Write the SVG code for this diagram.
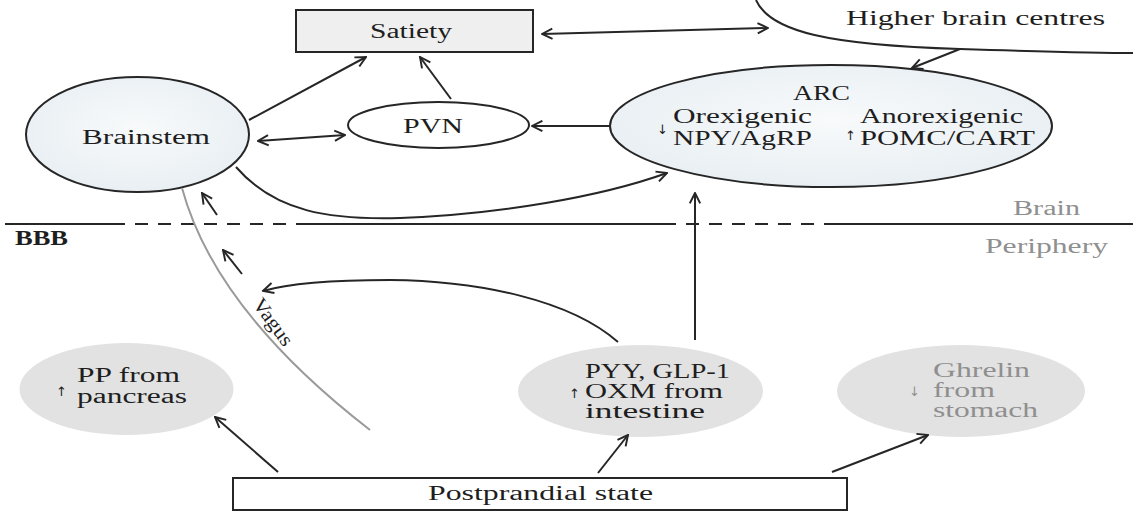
<svg xmlns="http://www.w3.org/2000/svg" width="1133" height="520" viewBox="0 0 1133 520">
<style>
  text { font-family: "Liberation Serif", "DejaVu Serif", serif; font-size: 20px; fill: #1e1e1e; }
  .gray { fill: #8f8f8f; }
  .ln { fill: none; stroke: #262626; stroke-width: 2; }
  .arr { fill: none; stroke: #262626; stroke-width: 2; marker-end: url(#ah); }
  .dbl { fill: none; stroke: #262626; stroke-width: 2; marker-end: url(#ah); marker-start: url(#ah); }
  .node { stroke: #262626; stroke-width: 2; }
  .pnode { fill: #e2e2e2; stroke: none; }
  .sm { font-family: "DejaVu Sans", sans-serif; font-size: 13px; }
</style>
<defs>
  <marker id="ah" viewBox="0 0 10 10" refX="9" refY="5" markerWidth="13" markerHeight="13" markerUnits="userSpaceOnUse" orient="auto-start-reverse">
    <path d="M1,1 L9,5 L1,9" fill="none" stroke="#262626" stroke-width="1.5"/>
  </marker>
  <radialGradient id="bg" cx="50%" cy="45%" r="60%">
    <stop offset="0" stop-color="#f8fafb"/>
    <stop offset="1" stop-color="#e7eef2"/>
  </radialGradient>
</defs>
<rect width="1133" height="520" fill="#ffffff"/>

<!-- BBB line -->
<g id="bbb">
  <path class="ln" d="M5,224 H125 M297,224 H663 M833,224 H1133"/>
  <path class="ln" d="M135,224 H297 M663,224 H833" stroke-dasharray="13,10"/>
  <text x="15" y="245" textLength="53" lengthAdjust="spacingAndGlyphs" font-weight="bold">BBB</text>
  <text class="gray" x="1013" y="215" textLength="67" lengthAdjust="spacingAndGlyphs">Brain</text>
  <text class="gray" x="985" y="253" textLength="123" lengthAdjust="spacingAndGlyphs">Periphery</text>
</g>

<g id="higher">
  <path class="ln" d="M756,0 C770,32 830,45 960,49 S1100,53 1133,53"/>
  <text x="846" y="25" textLength="259" lengthAdjust="spacingAndGlyphs">Higher brain centres</text>
</g>

<g id="satiety">
  <rect x="296" y="10" width="237" height="42" fill="#efefef" class="node"/>
  <text x="370" y="38" textLength="82" lengthAdjust="spacingAndGlyphs">Satiety</text>
</g>

<g id="brainstem">
  <ellipse cx="137.5" cy="134.5" rx="111.5" ry="57.5" fill="url(#bg)" class="node"/>
  <text x="82" y="144" textLength="128" lengthAdjust="spacingAndGlyphs">Brainstem</text>
</g>

<g id="pvn">
  <ellipse cx="438.5" cy="125" rx="90.5" ry="23" fill="#ffffff" class="node"/>
  <text x="403" y="133" textLength="60" lengthAdjust="spacingAndGlyphs">PVN</text>
</g>

<g id="arc">
  <ellipse cx="831" cy="126" rx="221" ry="61" fill="url(#bg)" class="node"/>
  <text x="793" y="100" textLength="57" lengthAdjust="spacingAndGlyphs">ARC</text>
  <text class="sm" x="657" y="134">↓</text>
  <text x="673" y="123" textLength="139" lengthAdjust="spacingAndGlyphs">Orexigenic</text>
  <text x="673" y="145" textLength="139" lengthAdjust="spacingAndGlyphs">NPY/AgRP</text>
  <text class="sm" x="845" y="140">↑</text>
  <text x="860" y="123" textLength="163" lengthAdjust="spacingAndGlyphs">Anorexigenic</text>
  <text x="860" y="145" textLength="175" lengthAdjust="spacingAndGlyphs">POMC/CART</text>
</g>

<g id="pp">
  <ellipse class="pnode" cx="126.5" cy="389" rx="107" ry="46"/>
  <text class="sm" x="56" y="396">↑</text>
  <text x="77" y="382" textLength="103" lengthAdjust="spacingAndGlyphs">PP from</text>
  <text x="77" y="403" textLength="110" lengthAdjust="spacingAndGlyphs">pancreas</text>
</g>

<g id="pyy">
  <ellipse class="pnode" cx="640.5" cy="391" rx="122.5" ry="46"/>
  <text x="585" y="378" textLength="145" lengthAdjust="spacingAndGlyphs">PYY, GLP-1</text>
  <text class="sm" x="569" y="398">↑</text>
  <text x="585" y="398" textLength="138" lengthAdjust="spacingAndGlyphs">OXM from</text>
  <text x="585" y="418" textLength="120" lengthAdjust="spacingAndGlyphs">intestine</text>
</g>

<g id="ghrelin">
  <ellipse class="pnode" cx="961" cy="391" rx="124" ry="46"/>
  <text class="gray" x="933" y="377" textLength="97" lengthAdjust="spacingAndGlyphs">Ghrelin</text>
  <text class="sm gray" x="909" y="396">↓</text>
  <text class="gray" x="933" y="397" textLength="62" lengthAdjust="spacingAndGlyphs">from</text>
  <text class="gray" x="933" y="417" textLength="105" lengthAdjust="spacingAndGlyphs">stomach</text>
</g>

<g id="postprandial">
  <rect x="233" y="478" width="614" height="32" fill="#ffffff" class="node"/>
  <text x="428" y="500" textLength="225" lengthAdjust="spacingAndGlyphs">Postprandial state</text>
</g>

<g id="vagus">
  <path d="M182,188 Q215,310 370,430" fill="none" stroke="#9a9a9a" stroke-width="2"/>
  <text x="252" y="304" font-size="17" transform="rotate(54 252 304)" textLength="54" lengthAdjust="spacingAndGlyphs">Vagus</text>
</g>

<g id="connectors">
  <path class="arr" d="M249,120 L366,57"/>
  <path class="arr" d="M451,99 L420,57"/>
  <path class="dbl" d="M542,34 L768,28"/>
  <path class="arr" d="M960,49 L912,68"/>
  <path class="dbl" d="M258,141 L345,135"/>
  <path class="arr" d="M610,126 L532,126"/>
  <path class="arr" d="M236,167 C275,212 330,220 400,218 C500,214 600,197 667,173"/>
  <path class="arr" d="M695,340 L695,193"/>
  <path class="arr" d="M217,215 L202,193"/>
  <path class="arr" d="M242,274 L223,250"/>
  <path class="arr" d="M618,342 C570,300 480,281 390,280 C330,280 290,283 263,291"/>
  <path class="arr" d="M278,472 L215,417"/>
  <path class="arr" d="M598,473 L628,435"/>
  <path class="arr" d="M832,472 L928,435"/>
</g>
</svg>
